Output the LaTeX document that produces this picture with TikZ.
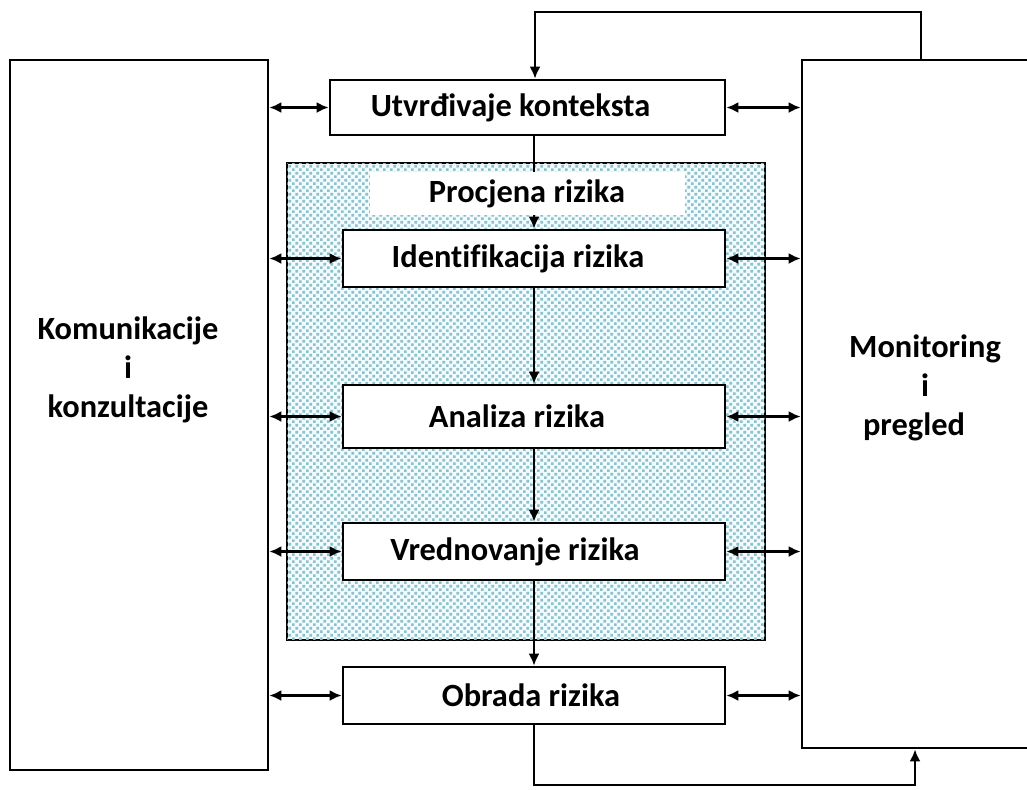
\documentclass[tikz,border=0pt]{standalone}
\usepackage{fontspec}
\setmainfont{Carlito}[Ligatures=CommonOff]
\usetikzlibrary{positioning,calc,patterns,arrows.meta}

% checker of small squares for the assessment panel
\pgfdeclarepatternformonly{checks}{\pgfqpoint{0pt}{0pt}}{\pgfqpoint{3.4pt}{3.4pt}}{\pgfqpoint{3.4pt}{3.4pt}}
{
    \pgfpathrectangle{\pgfqpoint{0pt}{0pt}}{\pgfqpoint{1.4pt}{1.4pt}}
    \pgfpathrectangle{\pgfqpoint{1.7pt}{1.7pt}}{\pgfqpoint{1.4pt}{1.4pt}}
    \pgfusepath{fill}
}
\definecolor{checkcol}{RGB}{140,192,202}

\begin{document}
\begin{tikzpicture}[x=0.5pt,y=-0.5pt,
    box/.style={draw, line width=1.3pt, fill=white, inner sep=0pt,
      font=\bfseries\fontsize{16.2}{19.5}\selectfont},
    txt/.style={align=center, inner sep=0pt,
      font=\bfseries\fontsize{16.2}{19.5}\selectfont},
    link/.style={line width=1.3pt, -{Latex[length=6pt,width=5.5pt]}},
    both/.style={line width=1.3pt, {Latex[length=6pt,width=5.5pt]}-{Latex[length=6pt,width=5.5pt]}}]

    \useasboundingbox (0,0) rectangle (1027,789);

    % Side blocks
    \node[box, minimum width=129pt, minimum height=355pt] (kom) at (139,415) {};
    \node[box, minimum width=119pt, minimum height=344pt] (mon) at (921,404) {};
    \node[txt] (komtext) at (128,370) {Komunikacije\\i\\konzultacije};
    \node[txt] (montext) at (925,388) {Monitoring\\i\\pregled\hspace*{11pt}};

    % Risk assessment panel
    \node[draw, line width=1.3pt, fill=cyan!5!white,
      postaction={pattern=checks, pattern color=checkcol},
      minimum width=239pt, minimum height=238.5pt] (panel) at (526,401.5) {};
    \node[txt, fill=white, minimum width=157.5pt, minimum height=21.5pt] (proc) at (527,193.5) {Procjena rizika};

    % Steps
    \node[box, minimum width=197.5pt, minimum height=27.5pt] (ctx) at (527.5,107.5) {Utvrđivaje konteksta\hspace*{17pt}};
    \node[box, minimum width=191pt, minimum height=28.5pt] (ident) at (534,258.5) {Identifikacija rizika\hspace*{16pt}};
    \node[box, minimum width=191pt, minimum height=31.5pt] (anal) at (534,416.5) {Analiza rizika\hspace*{17pt}};
    \node[box, minimum width=191pt, minimum height=28.5pt] (vred) at (534,551.5) {Vrednovanje rizika\hspace*{19pt}};
    \node[box, minimum width=191pt, minimum height=28.5pt] (obr) at (534,695.5) {Obrada rizika\hspace*{3pt}};

    % Flow
    \draw[line width=1.3pt] (ident.north |- ctx.south) -- (ident.north |- proc.north);
    \draw[link] (ident.north |- proc.south) -- (ident.north);
    \draw[link] (ident) -- (anal);
    \draw[link] (anal) -- (vred);
    \draw[link] (vred) -- (obr);

    % Links to the side blocks
    \foreach \b in {ctx,ident,anal,vred,obr}
    {
        \draw[both] (\b.west -| kom.east) -- (\b.west);
        \draw[both] (\b.east) -- (\b.east -| mon.west);
    }

    % Feedback loops
    \coordinate (top) at (535,12);
    \coordinate (bot) at (915,785);
    \draw[link] (mon.north) |- (top) -- (top |- ctx.north);
    \draw[link] (obr.south) |- (bot) -- (bot |- mon.south);
\end{tikzpicture}
\end{document}
